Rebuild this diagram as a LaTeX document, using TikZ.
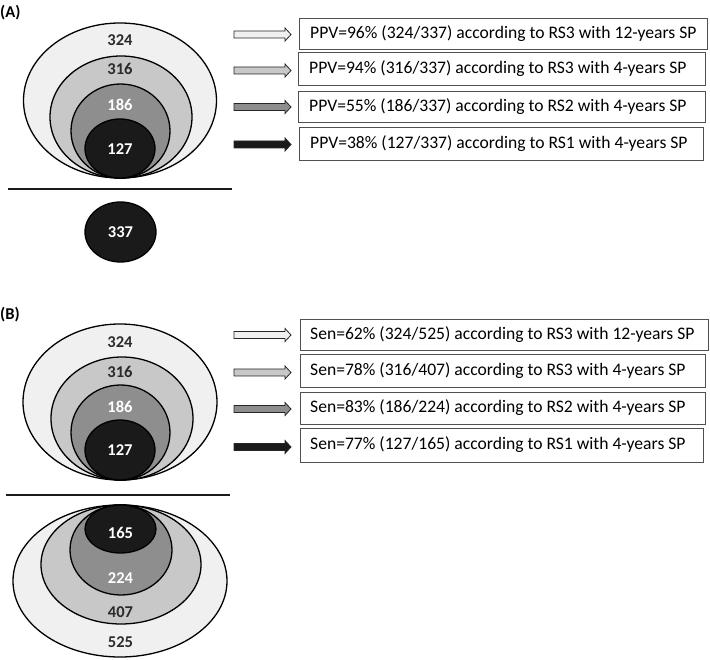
\documentclass[tikz,border=0pt]{standalone}
\usepackage{fontspec}
\setmainfont{Carlito}
\usetikzlibrary{shapes.geometric}
\definecolor{g1}{HTML}{F0F0F0}
\definecolor{g2}{HTML}{C8C8C8}
\definecolor{g3}{HTML}{8E8E8E}
\definecolor{g4}{HTML}{1A1A1A}
\definecolor{txtdark}{HTML}{2A2A2A}
\definecolor{boxline}{HTML}{505050}
\tikzset{
  ell/.style={ellipse, draw=black, line width=1.3pt, inner sep=0pt, fill=#1},
  num/.style={font=\bfseries\fontsize{16.5}{18}\selectfont, text=#1, inner sep=0pt},
  infobox/.style={draw=boxline, line width=0.9pt, rectangle, minimum height=31pt, inner sep=0pt, anchor=west},
  infotext/.style={font=\fontsize{17.6}{19}\selectfont, anchor=west, inner sep=0pt, text=black},
  panel/.style={font=\bfseries\fontsize{16.5}{18}\selectfont, anchor=west, inner sep=0pt},
  sep/.style={line width=2.6pt, draw=g4},
  barrow/.style={draw=black!85, line width=0.8pt, fill=#1},
}
\newcommand{\blockarrow}[3]{% x, y, fill
  \draw[barrow=#3] (#1,#2-3.5) -- (#1+51,#2-3.5) -- (#1+51,#2-6.5) -- (#1+57,#2) -- (#1+51,#2+6.5) -- (#1+51,#2+3.5) -- (#1,#2+3.5) -- cycle;
}
\begin{document}
\begin{tikzpicture}[x=1pt,y=-1pt]
\useasboundingbox (0,0) rectangle (710,660);
\fill[white] (0,0) rectangle (710,660);

% ---------- Panel A ----------
\node[panel] (lA) at (0,13) {(A)};
\node[ell=g1, minimum width=193pt, minimum height=155pt] (a1) at (120,100.5) {};
\node[ell=g2, minimum width=142pt, minimum height=122pt] (a2) at (121,117) {};
\node[ell=g3, minimum width=99pt, minimum height=94pt] (a3) at (120.5,131) {};
\node[ell=g4, minimum width=70pt, minimum height=59pt] (a4) at (120,148.5) {};
\node[num=txtdark] (na1) at (120,40) {324};
\node[num=txtdark] (na2) at (120,69) {316};
\node[num=white] (na3) at (120,105) {186};
\node[num=white] (na4) at (120,149) {127};
\coordinate (sAl) at (8,189);
\coordinate (sAr) at (232,189);
\draw[sep] (sAl) -- (sAr);
\node[ell=g4, minimum width=71pt, minimum height=60pt] (a5) at (120.5,232) {};
\node[num=white] (na5) at (120.5,232) {337};

\blockarrow{234}{34.5}{g1}
\blockarrow{234}{70.5}{g2}
\blockarrow{234}{107}{g3}
\blockarrow{234}{144.5}{g4}

\node[infobox, minimum width=408pt] (ba1) at (299,34) {};
\node[infobox, minimum width=407pt, minimum height=33pt] (ba2) at (298,68.5) {};
\node[infobox, minimum width=407pt] (ba3) at (298,106.5) {};
\node[infobox, minimum width=404pt, minimum height=33pt] (ba4) at (299,143.5) {};
\node[infotext] (ta1) at (310,34) {PPV=96\% (324/337) according to RS3 with 12-years SP};
\node[infotext] (ta2) at (309,68.5) {PPV=94\% (316/337) according to RS3 with 4-years SP};
\node[infotext] (ta3) at (309,106.5) {PPV=55\% (186/337) according to RS2 with 4-years SP};
\node[infotext] (ta4) at (310,143.5) {PPV=38\% (127/337) according to RS1 with 4-years SP};

% ---------- Panel B ----------
\node[panel] (lB) at (0,315) {(B)};
\node[ell=g1, minimum width=194pt, minimum height=156pt] (b1) at (120,402) {};
\node[ell=g2, minimum width=142pt, minimum height=123pt] (b2) at (122,418.5) {};
\node[ell=g3, minimum width=99pt, minimum height=95pt] (b3) at (120.5,432.5) {};
\node[ell=g4, minimum width=70pt, minimum height=60pt] (b4) at (120,450) {};
\node[num=txtdark] (nb1) at (120,342) {324};
\node[num=txtdark] (nb2) at (120,372) {316};
\node[num=white] (nb3) at (120,407) {186};
\node[num=white] (nb4) at (120,450) {127};
\coordinate (sBl) at (6,495);
\coordinate (sBr) at (230,495);
\draw[sep] (sBl) -- (sBr);
\node[ell=g1, minimum width=214pt, minimum height=152pt] (c1) at (120,581) {};
\node[ell=g2, minimum width=160pt, minimum height=119pt] (c2) at (121,564.5) {};
\node[ell=g3, minimum width=102pt, minimum height=90pt] (c3) at (121,550) {};
\node[ell=g4, minimum width=71pt, minimum height=48pt] (c4) at (120.5,529) {};
\node[num=white] (nc4) at (120.5,533) {165};
\node[num=white] (nc3) at (120.5,578) {224};
\node[num=txtdark] (nc2) at (120.5,612.5) {407};
\node[num=txtdark] (nc1) at (120.5,642.5) {525};

\blockarrow{234}{335}{g1}
\blockarrow{234}{372.5}{g2}
\blockarrow{234}{409}{g3}
\blockarrow{234}{447}{g4}

\node[infobox, minimum width=408pt] (bb1) at (300,334.5) {};
\node[infobox, minimum width=405pt, minimum height=33pt] (bb2) at (300,370.5) {};
\node[infobox, minimum width=405pt, minimum height=32pt] (bb3) at (300,408) {};
\node[infobox, minimum width=403pt, minimum height=34pt] (bb4) at (300,445) {};
\node[infotext] (tb1) at (310,334.5) {Sen=62\% (324/525) according to RS3 with 12-years SP};
\node[infotext] (tb2) at (310,370.5) {Sen=78\% (316/407) according to RS3 with 4-years SP};
\node[infotext] (tb3) at (310,408) {Sen=83\% (186/224) according to RS2 with 4-years SP};
\node[infotext] (tb4) at (310,445) {Sen=77\% (127/165) according to RS1 with 4-years SP};
\end{tikzpicture}
\end{document}
